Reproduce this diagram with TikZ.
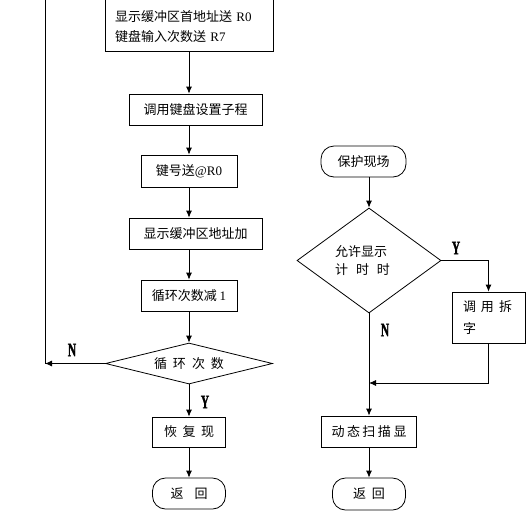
\documentclass[tikz,border=0pt]{standalone}
\usepackage{fontspec}
\setmainfont{Noto Sans CJK SC}
\newfontfamily\lat{Liberation Serif}
\newfontfamily\labfont[FakeStretch=0.6,FakeBold=1.2]{Liberation Serif}
\usetikzlibrary{shapes.geometric,arrows.meta}
\begin{document}
\begin{tikzpicture}[x=1pt,y=-1pt,
  box/.style={draw, line width=0.8pt, inner sep=0pt, font=\fontsize{13}{20}\selectfont},
  term/.style={box, rounded corners=13pt},
  txt/.style={inner sep=0pt, font=\fontsize{13}{20}\selectfont},
  dia/.style={draw, diamond, line width=0.8pt, inner sep=0pt, font=\fontsize{13}{18}\selectfont},
  arr/.style={line width=0.8pt, -{Latex[length=7pt,width=6pt]}},
  ln/.style={line width=0.8pt},
  lab/.style={inner sep=0pt, font=\labfont\bfseries\fontsize{19}{19}\selectfont}
]
\useasboundingbox (0,0) rectangle (532,523);
% left column
\node[box, minimum width=168pt, minimum height=66pt] (b1) at (189,18) {};
\node[txt, text width=148pt, align=left] (b1t) at (189,27) {显示缓冲区首地址送 {\lat R0}\\键盘输入次数送 {\lat R7}};
\node[box, minimum width=133pt, minimum height=31pt] (b2) at (195.5,109.5) {调用键盘设置子程};
\node[box, minimum width=96pt, minimum height=32pt] (b3) at (189,171) {键号送{\lat @R0}};
\node[box, minimum width=133pt, minimum height=31pt] (b4) at (195.5,233.5) {显示缓冲区地址加};
\node[box, minimum width=96pt, minimum height=31pt] (b5) at (189,295.5) {循环次数减 {\lat 1}};
\node[dia, minimum width=167pt, minimum height=41pt, aspect=4] (d1) at (189,363.5) {循\hspace{6pt}环\hspace{6pt}次\hspace{6pt}数};
\node[box, minimum width=73pt, minimum height=30pt] (b6) at (189,432) {恢\hspace{5.5pt}复\hspace{5.5pt}现};
\node[term, minimum width=73pt, minimum height=31pt] (t1) at (189,493.5) {返\hspace{11pt}回};
\coordinate (lc) at (45,363.5);
\coordinate (ltop) at (45,-5);
\draw[arr] (b1.south) -- (b1.south |- b2.north);
\draw[arr] (b3.north |- b2.south) -- (b3.north);
\draw[arr] (b3.south) -- (b3.south |- b4.north);
\draw[arr] (b5.north |- b4.south) -- (b5.north);
\draw[arr] (b5.south) -- (d1.north);
\draw[arr] (d1.south) -- (b6.north);
\draw[arr] (b6.south) -- (t1.north);
\draw[arr] (d1.west) -- (lc);
\draw[ln] (lc) -- (ltop);
\node[lab] (nl) at (72,350) {N};
\node[lab] (yl) at (205,402) {Y};
% right column
\node[term, minimum width=85pt, minimum height=31pt] (t2) at (363.5,161.5) {保护现场};
\node[dia, minimum width=144pt, minimum height=105pt, aspect=1.37, align=left] (d2) at (369,260.5) {\makebox[68pt][l]{允许显示}\\\makebox[68pt][l]{计\hspace{8pt}时\hspace{8pt}时}};
\node[box, minimum width=73pt, minimum height=51pt, text width=51pt, align=left, font=\fontsize{13}{22}\selectfont] (r1) at (488.5,317.5) {调\hspace{5pt}用\hspace{5pt}拆\\字};
\node[box, minimum width=95pt, minimum height=31pt] (r2) at (369,431.5) {动\hspace{2.5pt}态\hspace{2.5pt}扫\hspace{2.5pt}描\hspace{2.5pt}显};
\node[term, minimum width=73pt, minimum height=32pt] (t3) at (369,494) {返\hspace{6pt}回};
\coordinate (mj) at (369,383);
\draw[arr] (d2.north |- t2.south) -- (d2.north);
\draw[arr] (d2.east) -| (r1.north);
\draw[arr] (r1.south) |- (mj);
\draw[arr] (d2.south) -- (r2.north);
\draw[arr] (r2.south) -- (t3.north);
\node[lab] (yr) at (456,248) {Y};
\node[lab] (nr) at (385,330) {N};
\end{tikzpicture}
\end{document}
